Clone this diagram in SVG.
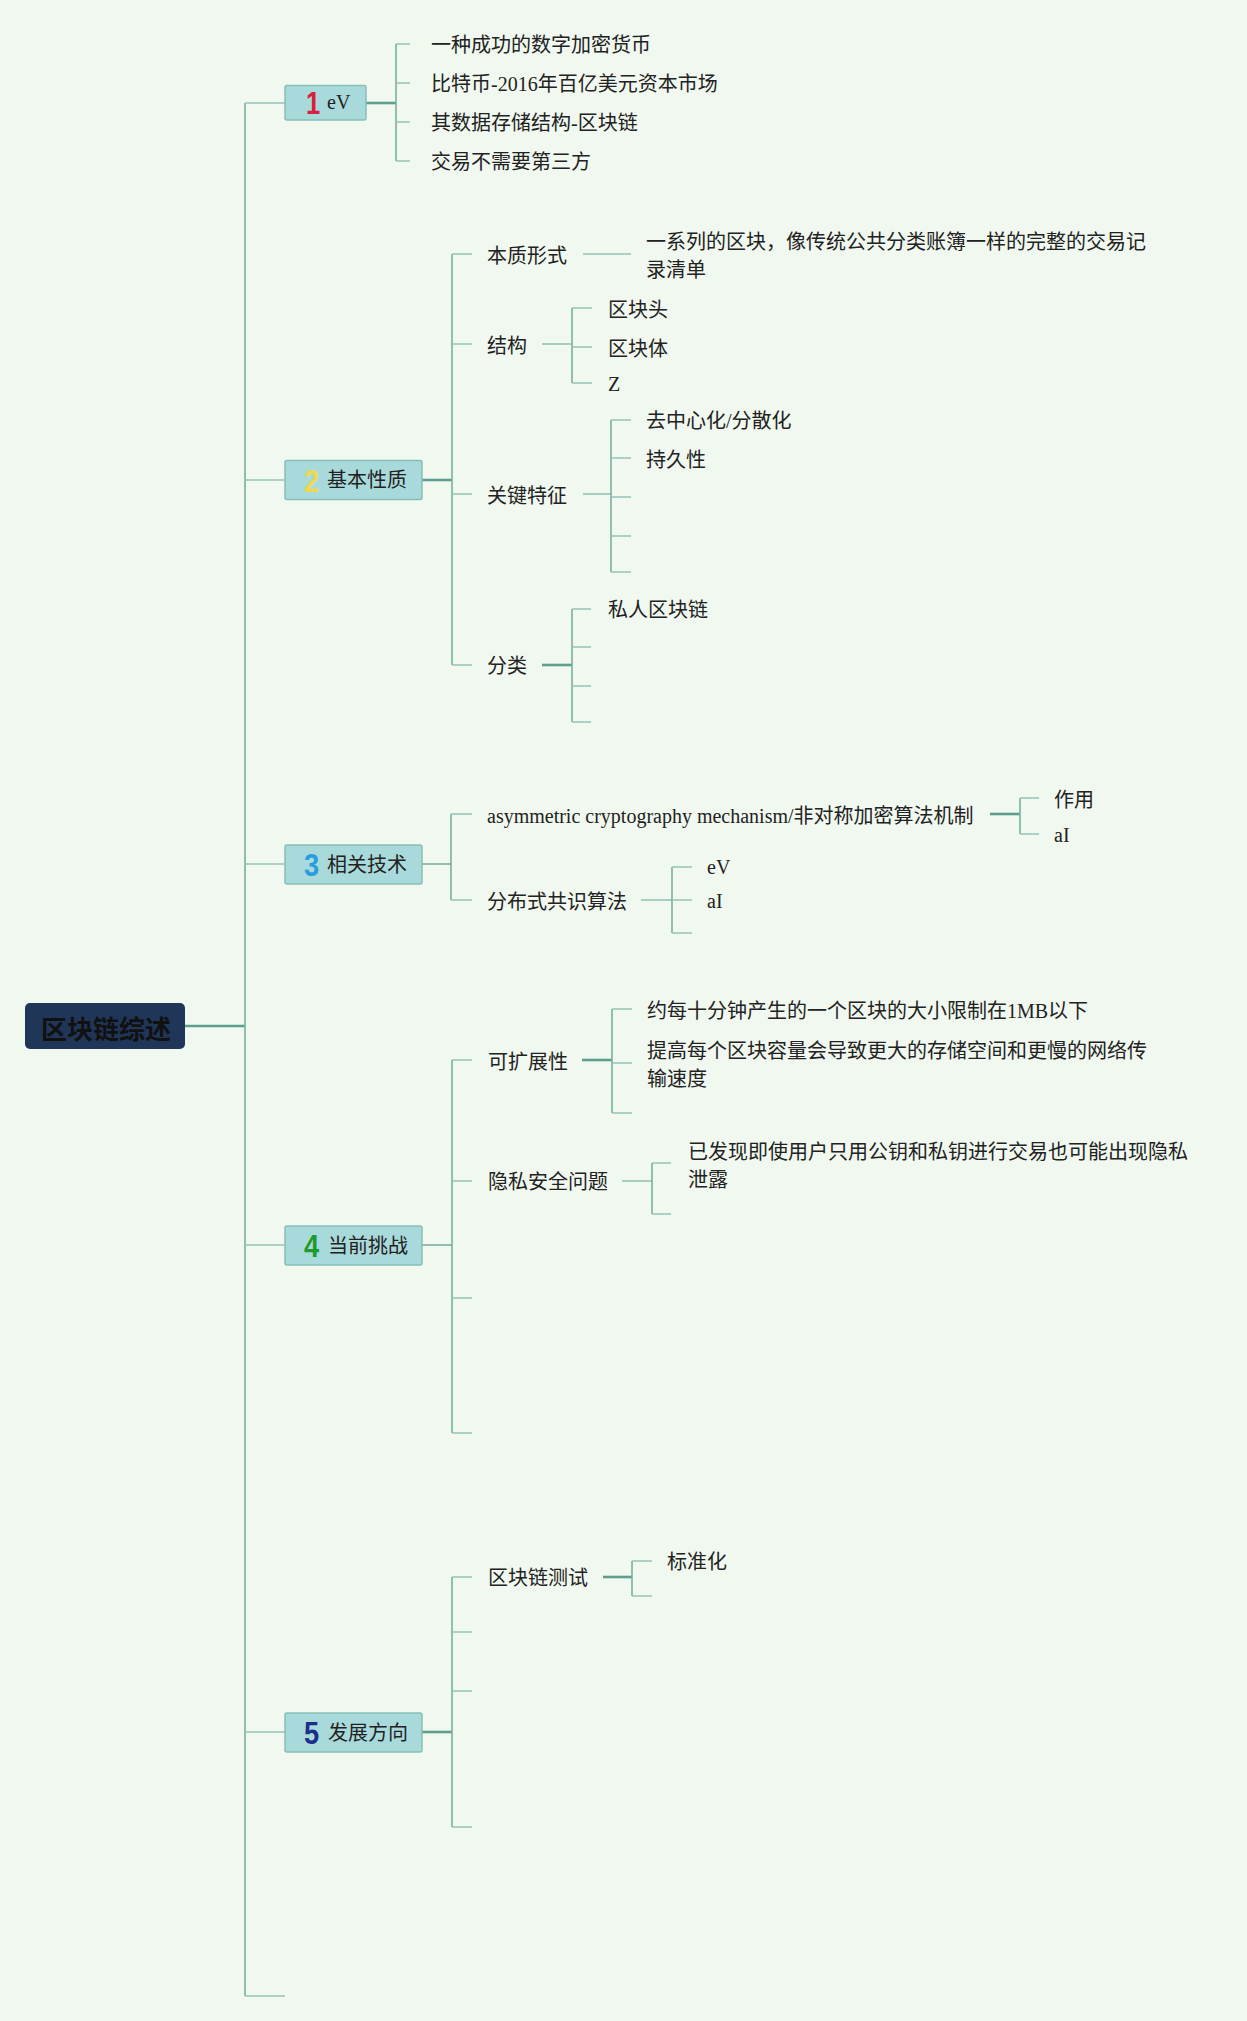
<svg xmlns="http://www.w3.org/2000/svg" width="1247" height="2021" viewBox="0 0 1247 2021">
<style>
.bg{fill:#f0f8ef}
.ln{stroke:#78b0a0;stroke-width:1.6;fill:none}
.lt{stroke:#93c4b5;stroke-width:1.6;fill:none}
.th{stroke:#5e9e8c;stroke-width:2.6;fill:none}
.box{fill:#a9dadb;stroke:#86bfb6;stroke-width:1.5}
.t{font-family:"Liberation Serif","Noto Sans CJK SC",serif;font-size:20px;fill:#222;dominant-baseline:central}
.num{font-family:"Liberation Sans","DejaVu Sans",sans-serif;font-size:32px;font-weight:bold;dominant-baseline:central}
.root{font-family:"Noto Sans CJK SC",sans-serif;font-size:26px;font-weight:bold;fill:#111;dominant-baseline:central}
</style>
<rect class="bg" x="0" y="0" width="1247" height="2021"/>
<g id="connectors">
<path class="th" d="M185 1026 H245"/>
<path class="ln" d="M245 103 V1996"/>
<path class="lt" d="M245 103 H285 M245 480 H285 M245 864 H285 M245 1245 H285 M245 1732 H285 M245 1996 H285"/>
<path class="th" d="M366 103 H396"/>
<path class="ln" d="M396 44 V161"/>
<path class="lt" d="M396 44 H410 M396 83 H410 M396 122 H410 M396 161 H410"/>
<path class="th" d="M422 480 H452"/>
<path class="ln" d="M452 254 V665"/>
<path class="lt" d="M452 254 H472 M452 344 H472 M452 494 H472 M452 665 H472"/>
<path class="lt" d="M583 254 H631"/>
<path class="lt" d="M542 344 H572"/>
<path class="ln" d="M572 308 V383"/>
<path class="lt" d="M572 308 H592 M572 347 H592 M572 383 H592"/>
<path class="lt" d="M583 494 H611"/>
<path class="ln" d="M611 420 V572"/>
<path class="lt" d="M611 420 H631 M611 458 H631 M611 497 H631 M611 536 H631 M611 572 H631"/>
<path class="th" d="M542 665 H572"/>
<path class="ln" d="M572 609 V722"/>
<path class="lt" d="M572 609 H591 M572 647 H591 M572 686 H591 M572 722 H591"/>
<path class="ln" d="M422 864 H451"/>
<path class="ln" d="M451 814 V900"/>
<path class="lt" d="M451 814 H472 M451 900 H472"/>
<path class="th" d="M990 814 H1020"/>
<path class="ln" d="M1020 798 V834"/>
<path class="lt" d="M1020 798 H1039 M1020 834 H1039"/>
<path class="lt" d="M641 900 H672"/>
<path class="ln" d="M672 867 V933"/>
<path class="lt" d="M672 867 H692 M672 900 H692 M672 933 H692"/>
<path class="ln" d="M422 1245 H452"/>
<path class="ln" d="M452 1060 V1433"/>
<path class="lt" d="M452 1060 H472 M452 1181 H472 M452 1298 H472 M452 1433 H472"/>
<path class="th" d="M582 1060 H612"/>
<path class="ln" d="M612 1009 V1113"/>
<path class="lt" d="M612 1009 H632 M612 1063 H632 M612 1113 H632"/>
<path class="lt" d="M622 1181 H652"/>
<path class="ln" d="M652 1163 V1214"/>
<path class="lt" d="M652 1163 H671 M652 1214 H671"/>
<path class="th" d="M422 1732 H452"/>
<path class="ln" d="M452 1577 V1827"/>
<path class="lt" d="M452 1577 H472 M452 1632 H472 M452 1691 H472 M452 1827 H472"/>
<path class="th" d="M603 1577 H632"/>
<path class="ln" d="M632 1561 V1596"/>
<path class="lt" d="M632 1561 H652 M632 1596 H652"/>
</g>
<g id="root">
<rect x="25" y="1003" width="160" height="46" rx="5" fill="#1f3659"/>
<text class="root" x="41" y="1027">区块链综述</text>
</g>
<g id="n1">
<rect class="box" x="285" y="85.5" width="81" height="34.5" rx="2"/>
<text class="num" transform="translate(306,103) scale(0.8,1)" fill="#d9203a">1</text>
<text class="t" x="327" y="102">eV</text>
</g>
<g id="n1-children">
<text class="t" x="431" y="45">一种成功的数字加密货币</text>
<text class="t" x="431" y="84">比特币-2016年百亿美元资本市场</text>
<text class="t" x="431" y="123">其数据存储结构-区块链</text>
<text class="t" x="431" y="162">交易不需要第三方</text>
</g>
<g id="n2">
<rect class="box" x="285" y="460.5" width="137" height="39" rx="2"/>
<text class="num" transform="translate(304,481) scale(0.85,1)" fill="#f0d84c">2</text>
<text class="t" x="327" y="480">基本性质</text>
</g>
<g id="n2-children">
<text class="t" x="487" y="256">本质形式</text>
<text class="t" x="646" y="242">一系列的区块，像传统公共分类账簿一样的完整的交易记</text>
<text class="t" x="646" y="270">录清单</text>
<text class="t" x="487" y="346">结构</text>
<text class="t" x="608" y="310">区块头</text>
<text class="t" x="608" y="349">区块体</text>
<text class="t" x="608" y="384">Z</text>
<text class="t" x="487" y="496">关键特征</text>
<text class="t" x="646" y="421">去中心化/分散化</text>
<text class="t" x="646" y="460">持久性</text>
<text class="t" x="487" y="666">分类</text>
<text class="t" x="608" y="610">私人区块链</text>
</g>
<g id="n3">
<rect class="box" x="285" y="845" width="137" height="39" rx="2"/>
<text class="num" transform="translate(304,865) scale(0.85,1)" fill="#2a9de0">3</text>
<text class="t" x="327" y="865">相关技术</text>
</g>
<g id="n3-children">
<text class="t" x="487" y="816">asymmetric cryptography mechanism/非对称加密算法机制</text>
<text class="t" x="1054" y="800">作用</text>
<text class="t" x="1054" y="835">aI</text>
<text class="t" x="487" y="902">分布式共识算法</text>
<text class="t" x="707" y="867">eV</text>
<text class="t" x="707" y="901">aI</text>
</g>
<g id="n4">
<rect class="box" x="285" y="1226" width="137" height="39" rx="2"/>
<text class="num" transform="translate(304,1246) scale(0.85,1)" fill="#1f9a2c">4</text>
<text class="t" x="328" y="1246">当前挑战</text>
</g>
<g id="n4-children">
<text class="t" x="488" y="1062">可扩展性</text>
<text class="t" x="647" y="1011">约每十分钟产生的一个区块的大小限制在1MB以下</text>
<text class="t" x="647" y="1051">提高每个区块容量会导致更大的存储空间和更慢的网络传</text>
<text class="t" x="647" y="1079">输速度</text>
<text class="t" x="488" y="1182">隐私安全问题</text>
<text class="t" x="688" y="1152">已发现即使用户只用公钥和私钥进行交易也可能出现隐私</text>
<text class="t" x="688" y="1180">泄露</text>
</g>
<g id="n5">
<rect class="box" x="285" y="1713" width="137" height="39" rx="2"/>
<text class="num" transform="translate(304,1733) scale(0.85,1)" fill="#1b2f8c">5</text>
<text class="t" x="328" y="1733">发展方向</text>
</g>
<g id="n5-children">
<text class="t" x="488" y="1578">区块链测试</text>
<text class="t" x="667" y="1562">标准化</text>
</g>
</svg>
